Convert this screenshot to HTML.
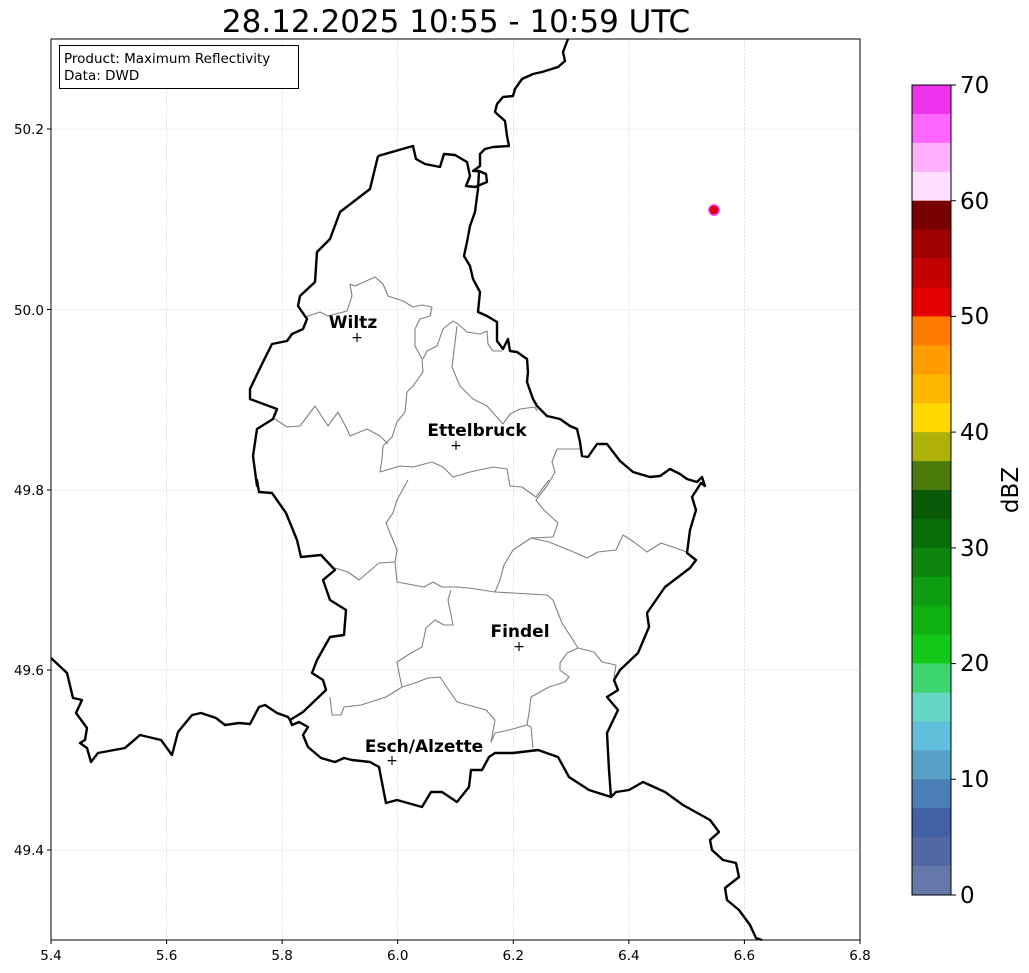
<!DOCTYPE html>
<html><head><meta charset="utf-8"><style>
html,body{margin:0;padding:0;background:#fff;}
svg{display:block;font-family:"DejaVu Sans","Liberation Sans",sans-serif;}
</style></head><body>
<svg width="1029" height="973" viewBox="0 0 1029 973" xmlns="http://www.w3.org/2000/svg">
<rect width="1029" height="973" fill="#fff"/>
<text x="456" y="32" font-size="31" text-anchor="middle" fill="#000">28.12.2025 10:55 - 10:59 UTC</text>
<g stroke="#cfcfcf" stroke-width="0.6" stroke-dasharray="2,1.5">
<line x1="166.6" y1="39" x2="166.6" y2="940"/><line x1="282.1" y1="39" x2="282.1" y2="940"/><line x1="397.7" y1="39" x2="397.7" y2="940"/><line x1="513.3" y1="39" x2="513.3" y2="940"/><line x1="628.9" y1="39" x2="628.9" y2="940"/><line x1="744.4" y1="39" x2="744.4" y2="940"/>
<line x1="51" y1="129" x2="860" y2="129"/><line x1="51" y1="309.5" x2="860" y2="309.5"/><line x1="51" y1="490" x2="860" y2="490"/><line x1="51" y1="670" x2="860" y2="670"/><line x1="51" y1="850" x2="860" y2="850"/>
</g>
<g fill="none" stroke="#808080" stroke-width="1.1" stroke-linejoin="round">
<polyline points="305,317 320,312 328,316 347,311 352,296 350,284 355,286 375,277 383,284 388,296 403,301 413,307 422,305 432,307 430,316 420,319 415,329 415,346 422,359 423,372 413,386 407,392 405,412 397,422 392,437 383,446 382,459 380,472"/>
<polyline points="275,419 287,427 300,426 315,406 328,426 338,412 347,429 350,436 367,429 380,436 388,444"/>
<polyline points="423,359 427,351 437,346 443,329 453,321 458,324 467,332 480,334 487,331 488,344 493,351 502,351"/>
<polyline points="457,326 453,359 452,367 460,386 473,399 487,406 503,424 510,414 520,409 535,407 537,411"/>
<polyline points="380,472 400,466 413,467 432,462 443,467 453,477 470,472 493,467 507,469 510,486 522,487 536,497 549,480"/>
<polyline points="580,449 557,449 552,462 555,472 547,486 536,500 538,503 544,510 558,523 553,537 531,538"/>
<polyline points="408,480 397,500 393,513 386,523 397,550 395,562 397,582 424,587 433,582 442,587 457,587 469,588 495,592 500,580 504,565 513,550 531,538 549,542 576,553 587,558 598,552 616,550 623,535 634,542 647,552 661,543 687,552"/>
<polyline points="335,568 348,572 359,580 379,563 395,562"/>
<polyline points="451,590 448,600 453,625 444,625 435,620 426,628 422,647 411,653 397,662 399,673 402,687 386,697 361,705 344,707 341,715 332,715 330,697"/>
<polyline points="495,592 513,593 547,595 553,600 562,623 571,637 578,648 567,653 560,663 560,670 569,677 565,682 549,687 531,697 529,713 527,725 509,730 495,733 491,742 495,720 486,710 457,702 444,683 440,677 428,678 415,683 402,687"/>
<polyline points="527,725 531,727 533,748"/>
<polyline points="578,648 594,652 602,662 616,665 614,677"/>
</g>
<g fill="none" stroke="#000" stroke-width="2.4" stroke-linejoin="round">
<polyline points="378,156 413,146 416,159 425,164 440,167 444,154 455,155 467,162 470,176 466,186 475,187 487,182 486,174 479,171 478,189 475,212 470,226 467,242 464,256 470,266 473,279 480,292 478,312 487,316 497,322 497,341 503,349 508,339 510,351 517,352 527,359 528,372 527,382 533,399 537,406 547,416 560,419 570,426 577,429 580,442 582,456 588,457 597,444 607,444 620,461 633,472 650,477 660,476 670,469 680,474 687,479 697,482 702,477 705,486 701,483 692,497 696,510 690,530 687,553 696,560 690,568 665,587 647,613 649,627 638,653 620,670 614,680 618,690 607,697 618,710 607,733 609,770 611,797 589,790 569,777 558,757 538,750 513,753 495,753 489,757 482,770 471,770 469,787 457,802 442,792 431,792 422,807 397,800 386,803 384,793 379,767 370,762 352,760 344,758 335,762 321,758 308,747 303,735 308,727 299,722 292,725 290,720 303,712 326,690 323,680 312,673 317,660 330,637 344,635 346,610 330,600 323,580 335,570 321,555 301,557 297,540 286,513 272,493 259,492 257,480 257,486 253,456 257,429 273,419 277,409 250,399 250,389 263,362 272,344 287,341 292,334 303,329 307,319 298,306 300,296 315,282 317,252 330,239 340,212 370,189 378,156"/>
<polyline points="568,39 563,52 565,61 558,67 542,72 533,74 522,79 515,89 513,96 503,97 497,104 495,112 505,121 507,136 509,146 493,147 485,149 480,154 480,166 473,171 479,171"/>
<polyline points="51,658 67,673 73,698 82,700 76,713 87,728 85,740 80,743 87,748 91,762 98,753 125,748 140,735 161,740 172,755 178,732 192,715 201,713 216,718 225,725 239,723 250,724 259,707 265,705 277,713 288,717 290,720"/>
<polyline points="611,797 616,792 629,790 643,782 665,792 683,805 710,820 719,832 710,840 712,850 723,860 736,863 739,877 725,888 727,900 739,910 750,925 756,938 762,940"/>
</g>
<circle cx="714" cy="210" r="5" fill="#e40000" stroke="#ee33ee" stroke-width="1.5"/>
<rect x="51" y="39" width="809" height="901" fill="none" stroke="#000" stroke-width="1"/>
<rect x="59.5" y="45.5" width="239" height="43" fill="#fff" stroke="#000" stroke-width="1"/>
<text x="64" y="63" font-size="13.5">Product: Maximum Reflectivity</text>
<text x="64" y="80" font-size="13.5">Data: DWD</text>
<g font-size="17" font-weight="bold" text-anchor="middle">
<text x="353" y="328">Wiltz</text><text x="477" y="436">Ettelbruck</text><text x="520" y="637">Findel</text><text x="424" y="752">Esch/Alzette</text>
</g>
<g font-size="14" text-anchor="middle">
<text x="357" y="342">+</text><text x="456" y="450">+</text><text x="519" y="651">+</text><text x="392" y="765">+</text>
</g>
<g stroke="#000" stroke-width="1">
<line x1="47" y1="129" x2="51" y2="129"/><line x1="47" y1="309.5" x2="51" y2="309.5"/><line x1="47" y1="490" x2="51" y2="490"/><line x1="47" y1="670" x2="51" y2="670"/><line x1="47" y1="850" x2="51" y2="850"/>
<line x1="51" y1="940" x2="51" y2="944"/><line x1="166.6" y1="940" x2="166.6" y2="944"/><line x1="282.1" y1="940" x2="282.1" y2="944"/><line x1="397.7" y1="940" x2="397.7" y2="944"/><line x1="513.3" y1="940" x2="513.3" y2="944"/><line x1="628.9" y1="940" x2="628.9" y2="944"/><line x1="744.4" y1="940" x2="744.4" y2="944"/><line x1="860" y1="940" x2="860" y2="944"/>
</g>
<g font-size="13.5" text-anchor="end">
<text x="44" y="134">50.2</text><text x="44" y="315">50.0</text><text x="44" y="495">49.8</text><text x="44" y="675">49.6</text><text x="44" y="855">49.4</text>
</g>
<g font-size="13.5" text-anchor="middle">
<text x="51" y="960">5.4</text><text x="166.6" y="960">5.6</text><text x="282.1" y="960">5.8</text><text x="397.7" y="960">6.0</text><text x="513.3" y="960">6.2</text><text x="628.9" y="960">6.4</text><text x="744.4" y="960">6.6</text><text x="860" y="960">6.8</text>
</g>
<g>
<rect x="912" y="85" width="39" height="29.2" fill="#ee33ee"/>
<rect x="912" y="113.9" width="39" height="29.2" fill="#fe66fe"/>
<rect x="912" y="142.8" width="39" height="29.2" fill="#feb0fe"/>
<rect x="912" y="171.8" width="39" height="29.2" fill="#fee0fe"/>
<rect x="912" y="200.7" width="39" height="29.2" fill="#780000"/>
<rect x="912" y="229.6" width="39" height="29.2" fill="#a00000"/>
<rect x="912" y="258.6" width="39" height="29.2" fill="#c40000"/>
<rect x="912" y="287.5" width="39" height="29.2" fill="#e40000"/>
<rect x="912" y="316.4" width="39" height="29.2" fill="#ff7c00"/>
<rect x="912" y="345.4" width="39" height="29.2" fill="#ff9c00"/>
<rect x="912" y="374.3" width="39" height="29.2" fill="#ffb800"/>
<rect x="912" y="403.2" width="39" height="29.2" fill="#ffd800"/>
<rect x="912" y="432.1" width="39" height="29.2" fill="#aeb208"/>
<rect x="912" y="461.1" width="39" height="29.2" fill="#4a7a08"/>
<rect x="912" y="490" width="39" height="29.2" fill="#085a08"/>
<rect x="912" y="518.9" width="39" height="29.2" fill="#086e0a"/>
<rect x="912" y="547.9" width="39" height="29.2" fill="#0c860e"/>
<rect x="912" y="576.8" width="39" height="29.2" fill="#0e9c10"/>
<rect x="912" y="605.7" width="39" height="29.2" fill="#10b012"/>
<rect x="912" y="634.6" width="39" height="29.2" fill="#14c81a"/>
<rect x="912" y="663.6" width="39" height="29.2" fill="#3cd46c"/>
<rect x="912" y="692.5" width="39" height="29.2" fill="#64d6c4"/>
<rect x="912" y="721.4" width="39" height="29.2" fill="#60c0dc"/>
<rect x="912" y="750.4" width="39" height="29.2" fill="#58a0c8"/>
<rect x="912" y="779.3" width="39" height="29.2" fill="#4a7eb4"/>
<rect x="912" y="808.2" width="39" height="29.2" fill="#4260a4"/>
<rect x="912" y="837.1" width="39" height="29.2" fill="#5068a4"/>
<rect x="912" y="866.1" width="39" height="28.9" fill="#6478aa"/>
<rect x="912" y="85" width="39" height="810" fill="none" stroke="#000" stroke-width="1"/>
</g>
<g stroke="#000" stroke-width="1">
<line x1="951" y1="85" x2="956" y2="85"/><line x1="951" y1="200.7" x2="956" y2="200.7"/><line x1="951" y1="316.4" x2="956" y2="316.4"/><line x1="951" y1="432.1" x2="956" y2="432.1"/><line x1="951" y1="547.9" x2="956" y2="547.9"/><line x1="951" y1="663.6" x2="956" y2="663.6"/><line x1="951" y1="779.3" x2="956" y2="779.3"/><line x1="951" y1="895" x2="956" y2="895"/>
</g>
<g font-size="23">
<text x="960" y="93">70</text><text x="960" y="209">60</text><text x="960" y="324">50</text><text x="960" y="440">40</text><text x="960" y="556">30</text><text x="960" y="671">20</text><text x="960" y="787">10</text><text x="960" y="903">0</text>
</g>
<text transform="translate(1018,490) rotate(-90)" font-size="23" text-anchor="middle">dBZ</text>
</svg>
</body></html>
